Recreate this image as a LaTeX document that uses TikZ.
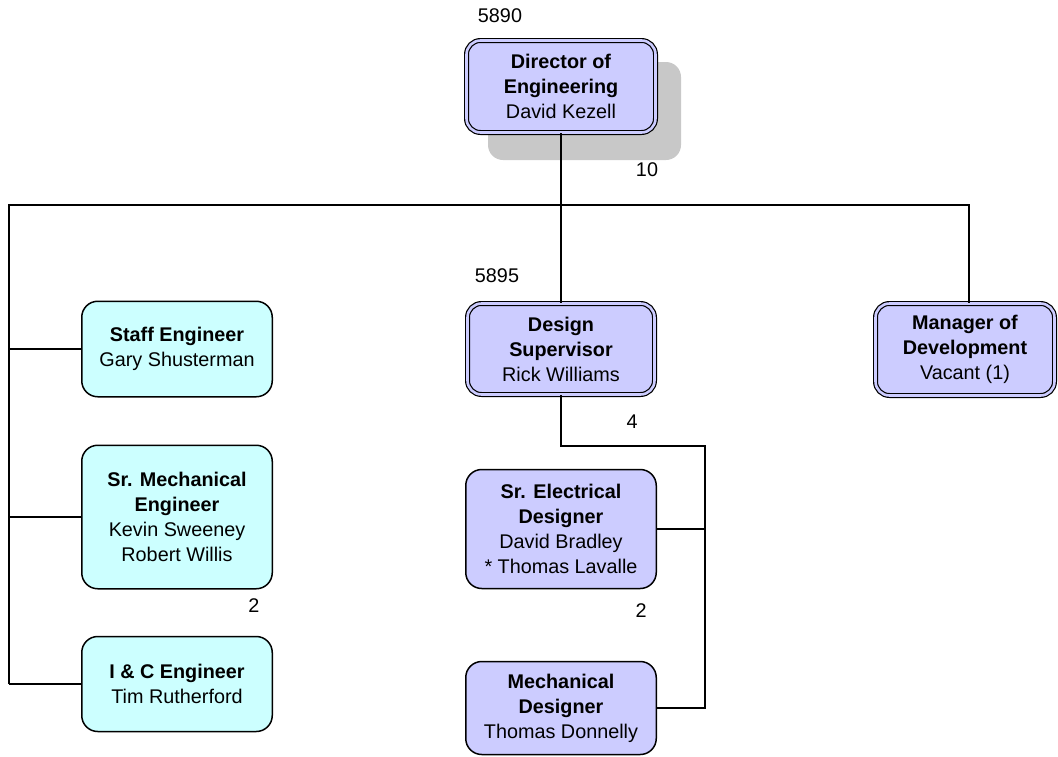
\documentclass[tikz,border=0pt]{standalone}
\usepackage{fontspec}
\setmainfont{Liberation Sans}
\definecolor{lav}{RGB}{204,204,255}
\definecolor{cyanbox}{RGB}{204,255,255}
\definecolor{shadowgray}{RGB}{200,200,200}
\begin{document}
\begin{tikzpicture}[x=1pt,y=-1pt,
  txt/.style={font=\fontsize{19.8}{25}\selectfont},
  dbox/.style={txt, draw=black, fill=lav, line width=1.2pt, double=lav, double distance=2.6pt,
    rounded corners=14pt, align=center, inner sep=0pt},
  sbox/.style={txt, draw=black, fill=cyanbox, line width=1.5pt, rounded corners=16pt,
    align=center, inner sep=0pt, minimum width=190.5pt},
  pbox/.style={sbox, fill=lav},
  conn/.style={line width=1.5pt}]
\useasboundingbox (0,0) rectangle (1058,756);
% shadow of director box
\fill[shadowgray, rounded corners=15pt] (488,62) rectangle (681,160);
% boxes
\node[dbox, minimum width=189pt, minimum height=92pt] (dir) at (561,86.5)
  {\textbf{Director of}\\\textbf{Engineering}\\David Kezell};
\node[dbox, minimum width=187pt, minimum height=91pt] (ds) at (561,349)
  {\textbf{Design}\\\textbf{Supervisor}\\Rick Williams};
\node[dbox, minimum width=179pt, minimum height=92pt] (mgr) at (965,349.5)
  {\textbf{Manager of}\\\textbf{Development}\\Vacant (1)};
\node[sbox, minimum height=95.5pt] (staff) at (177,349)
  {\textbf{Staff Engineer}\\Gary Shusterman};
\node[sbox, minimum height=143.5pt] (srm) at (177,517)
  {\textbf{Sr. Mechanical}\\\textbf{Engineer}\\Kevin Sweeney\\Robert Willis};
\node[sbox, minimum height=95pt] (ic) at (177,684)
  {\textbf{I \& C Engineer}\\Tim Rutherford};
\node[pbox, minimum height=119pt] (sre) at (561,529)
  {\textbf{Sr. Electrical}\\\textbf{Designer}\\David Bradley\\* Thomas Lavalle};
\node[pbox, minimum height=93pt] (md) at (561,708)
  {\textbf{Mechanical}\\\textbf{Designer}\\Thomas Donnelly};
% bus coordinates
\coordinate (busL) at (9,205);
\coordinate (busR) at (969,205);
\coordinate (leftEnd) at (9,684);
\coordinate (dsTurn) at (561,446);
\coordinate (rTop) at (705,446);
\coordinate (rBot) at (705,708);
% connectors
\draw[conn] (dir.south) -- (ds.north);
\draw[conn] (leftEnd) -- (busL) -- (busR) -- (busR |- mgr.north);
\draw[conn] (busL |- staff.west) -- (staff.west);
\draw[conn] (busL |- srm.west) -- (srm.west);
\draw[conn] (leftEnd) -- (ic.west);
\draw[conn] (ds.south) -- (dsTurn) -- (rTop) -- (rBot) -- (md.east);
\draw[conn] (sre.east) -- (rTop |- sre.east);
% numbers
\node[txt] (n5890) at (500,16) {5890};
\node[txt] (n10) at (647,170) {10};
\node[txt] (n5895) at (497,276) {5895};
\node[txt] (n4) at (632,422) {4};
\node[txt] (n2a) at (254,606) {2};
\node[txt] (n2b) at (641,611) {2};
\end{tikzpicture}
\end{document}
